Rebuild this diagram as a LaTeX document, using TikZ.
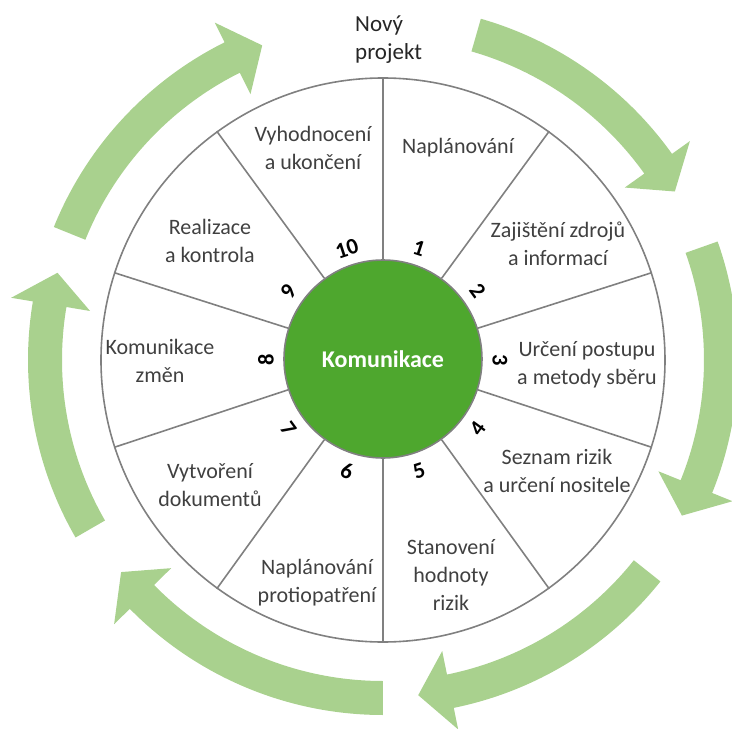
\documentclass[tikz,border=0pt]{standalone}
\usepackage{fontspec}
\setmainfont{Carlito}
\definecolor{hubgreen}{HTML}{4EA72E}
\definecolor{flowgreen}{HTML}{A9D18E}
\definecolor{rimgray}{HTML}{808080}
\definecolor{labelgray}{HTML}{404040}
\definecolor{titlegray}{HTML}{262626}

\begin{document}
\begin{tikzpicture}[x=1pt,y=1pt,
  rim/.style={draw=rimgray, line width=1.6pt},
  phase/.style={align=center, text=labelgray, inner sep=0pt,
    font=\fontsize{22}{28}\selectfont},
  stepnum/.style={text=black, inner sep=0pt,
    font=\fontsize{22.5}{24}\selectfont\bfseries},
  flow/.style={fill=flowgreen}]
\useasboundingbox (-383,-369) rectangle (349,360);

% curved arrows running clockwise round the wheel (start angle / tip angle)
\foreach \a/\b in {74/30, 19.5/-27.5, -38.6/-84, -90/-141, -150/-195, 158/111} {
  \pgfmathsetmacro\hb{\b+5.5}
  \fill[flow] (\a:355) arc[start angle=\a, end angle=\hb, radius=355]
    -- (\hb:377) -- (\b:337) -- (\hb:297) -- (\hb:321)
    arc[start angle=\hb, end angle=\a, radius=321] -- cycle;
}

% outer wheel and hub
\node[circle, rim, minimum size=564pt, inner sep=0pt] (wheel) at (0,0) {};
\node[circle, fill=hubgreen, rim, minimum size=198pt, inner sep=0pt] (hub) at (0,1) {};
\node[text=white, font=\fontsize{24}{28}\selectfont\bfseries] (hubtext) at (0,1) {Komunikace};

% spokes between the phases
\foreach \k in {0,...,9} {
  \pgfmathtruncatemacro\ang{90-36*\k}
  \draw[rim] (hub.\ang) -- (wheel.\ang);
}

% phase numbers
\foreach \k/\rot in {1/-18, 2/-54, 3/-90, 4/54, 5/18, 6/-18, 7/-54, 8/90, 9/54, 10/18}
  \node[stepnum, rotate=\rot] (n\k) at ({108-36*\k}:117) {\k};

% phase labels
\node[phase] (p1)  at (75,212)    {Naplánování};
\node[phase] (p2)  at (175,116)   {Zajištění zdrojů\\a informací};
\node[phase] (p3)  at (204,-5)    {Určení postupu\\a metody sběru};
\node[phase] (p4)  at (174,-111)  {Seznam rizik\\a určení nositele};
\node[phase] (p5)  at (68,-215)   {Stanovení\\hodnoty\\rizik};
\node[phase] (p6)  at (-66,-223)  {Naplánování\\protiopatření};
\node[phase] (p7)  at (-173,-125) {Vytvoření\\dokumentů};
\node[phase] (p8)  at (-223,-1)   {Komunikace\\změn};
\node[phase] (p9)  at (-173,119)  {Realizace\\a kontrola};
\node[phase] (p10) at (-70,212)   {Vyhodnocení\\a ukončení};

% start of the cycle
\node[align=left, anchor=west, inner sep=0pt, text=titlegray,
  font=\fontsize{23}{28}\selectfont] (start) at (-28,320) {Nový\\projekt};
\end{tikzpicture}
\end{document}
